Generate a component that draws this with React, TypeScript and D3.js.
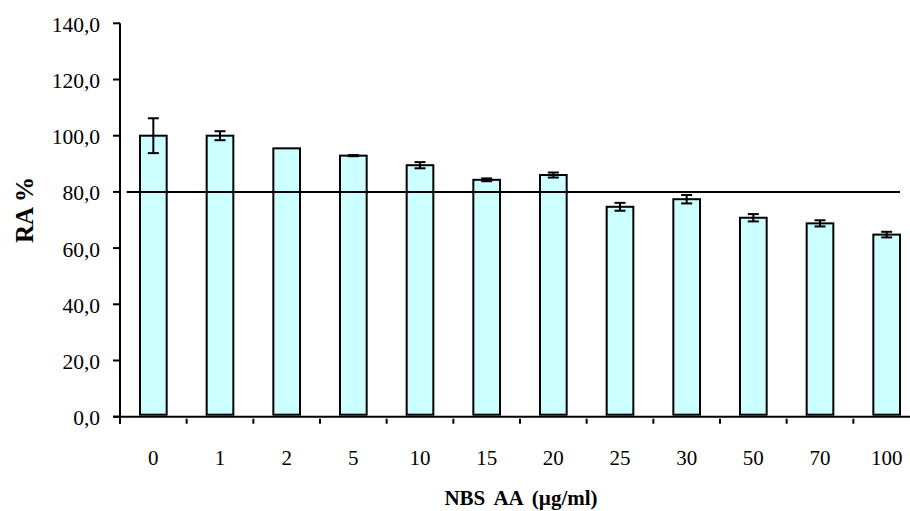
import React from "react";
import * as d3 from "d3";

const categories = ["0", "1", "2", "5", "10", "15", "20", "25", "30", "50", "70", "100"];
const values = [100.0, 100.0, 95.5, 92.9, 89.5, 84.3, 86.0, 74.7, 77.4, 70.8, 68.8, 64.8];
const errors = [6.2, 1.6, 0.0, 0.2, 1.1, 0.5, 0.9, 1.4, 1.5, 1.3, 1.1, 1.0];
const yTicks = [0, 20, 40, 60, 80, 100, 120, 140];
const thresholdValue = 80;
const xTitle = "NBS AA (µg/ml)";
const yTitle = "RA %";

const W = 910;
const H = 511;
const left = 120;
const right = 920;
const top = 23.3;
const bottom = 416.7;
const font = "'Liberation Serif', 'Times New Roman', serif";

export default function App() {
  const x = d3
    .scaleBand<string>()
    .domain(categories)
    .range([left, right])
    .paddingInner(0.6)
    .paddingOuter(0.3);
  const step = x.step();
  const y = d3.scaleLinear().domain([0, 140]).range([bottom, top]);
  const fmt = (v: number) => d3.format(".1f")(v).replace(".", ",");
  const idx = d3.scaleLinear().domain([0, categories.length]).range([left, right]);
  const capW = 11;

  return (
    <svg
      width={W}
      height={H}
      style={{ position: "absolute", left: 0, top: 0, background: "#fff" }}
      fontFamily={font}
    >
      {categories.map((c, i) => (
        <rect
          key={c}
          x={x(c)!}
          y={y(values[i])}
          width={x.bandwidth()}
          height={y(0) - y(values[i]) - 2}
          fill="#CCFFFF"
          stroke="#000"
          strokeWidth={2}
        />
      ))}
      {categories.map((c, i) => {
        if (errors[i] <= 0) return null;
        const cx = x(c)! + x.bandwidth() / 2;
        const y1 = y(values[i] + errors[i]);
        const y2 = y(values[i] - errors[i]);
        return (
          <g key={"e" + c} stroke="#000" strokeWidth={2}>
            <line x1={cx} x2={cx} y1={y1} y2={y2} />
            <line x1={cx - capW / 2} x2={cx + capW / 2} y1={y1} y2={y1} />
            <line x1={cx - capW / 2} x2={cx + capW / 2} y1={y2} y2={y2} />
          </g>
        );
      })}
      <line
        x1={idx(0.1)}
        x2={idx(11.7)}
        y1={y(thresholdValue)}
        y2={y(thresholdValue)}
        stroke="#000"
        strokeWidth={2}
      />
      <line x1={left} x2={left} y1={top} y2={bottom + 7} stroke="#000" strokeWidth={2} />
      {yTicks.map((t) => (
        <g key={"yt" + t}>
          <line x1={left - 7} x2={left} y1={y(t)} y2={y(t)} stroke="#000" strokeWidth={2} />
          <text x={100} y={y(t) + 1} dy="0.35em" textAnchor="end" fontSize={21.5} fill="#000">
            {fmt(t)}
          </text>
        </g>
      ))}
      <line x1={left - 7} x2={right} y1={bottom} y2={bottom} stroke="#000" strokeWidth={2} />
      {d3.range(categories.length + 1).map((i) => (
        <line
          key={"xt" + i}
          x1={left + i * step}
          x2={left + i * step}
          y1={bottom + 2}
          y2={bottom + 7}
          stroke="#000"
          strokeWidth={2}
        />
      ))}
      {categories.map((c) => (
        <text
          key={"xl" + c}
          x={x(c)! + x.bandwidth() / 2}
          y={465}
          textAnchor="middle"
          fontSize={21}
          fill="#000"
        >
          {c}
        </text>
      ))}
      <text
        x={521}
        y={505}
        textAnchor="middle"
        fontSize={21}
        fontWeight="bold"
        wordSpacing={4}
        fill="#000"
      >
        {xTitle}
      </text>
      <text
        transform={`translate(33,210) rotate(-90)`}
        textAnchor="middle"
        fontSize={25}
        fontWeight="bold"
        fill="#000"
      >
        {yTitle}
      </text>
    </svg>
  );
}
